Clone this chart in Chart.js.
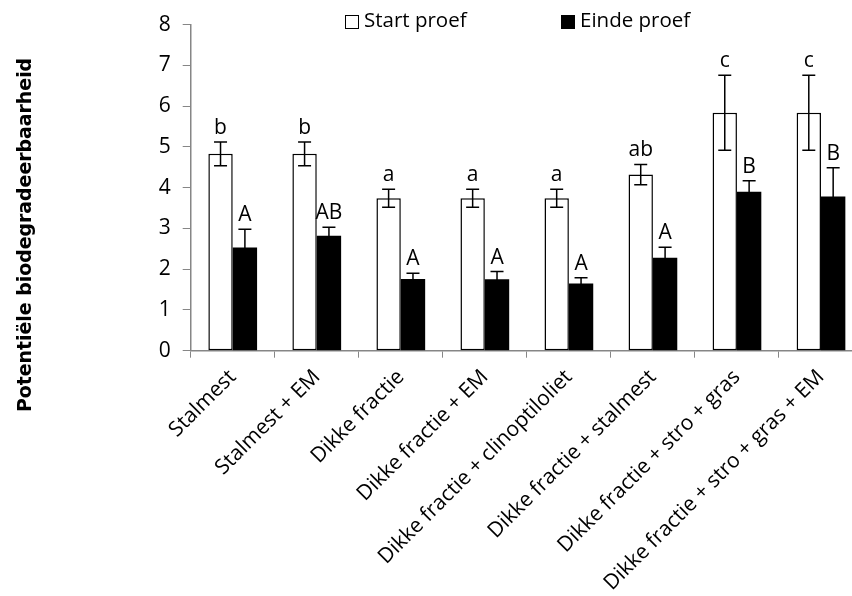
<!DOCTYPE html>
<html>
<head>
<meta charset="utf-8">
<script src="https://cdn.jsdelivr.net/npm/chart.js@4"></script>
<style>
  html, body { margin: 0; padding: 0; background: #fff; overflow: hidden; }
  #wrap { width: 852px; height: 596px; overflow: hidden; }
</style>
</head>
<body>
<div id="wrap"><canvas id="chart" width="864" height="596"></canvas></div>
<script>
// Data
const categories = [
  "Stalmest",
  "Stalmest + EM",
  "Dikke fractie",
  "Dikke fractie + EM",
  "Dikke fractie + clinoptiloliet",
  "Dikke fractie + stalmest",
  "Dikke fractie + stro + gras",
  "Dikke fractie + stro + gras + EM"
];
const startValues = [4.83, 4.83, 3.74, 3.74, 3.74, 4.32, 5.84, 5.84];
const startErrors = [0.29, 0.29, 0.22, 0.22, 0.22, 0.25, 0.92, 0.92];
const startLetters = ["b", "b", "a", "a", "a", "ab", "c", "c"];
const endValues = [2.53, 2.82, 1.76, 1.75, 1.65, 2.28, 3.90, 3.78];
const endErrors = [0.45, 0.21, 0.14, 0.19, 0.14, 0.26, 0.27, 0.71];
const endLetters = ["A", "AB", "A", "A", "A", "A", "B", "B"];
const yTicks = [0, 1, 2, 3, 4, 5, 6, 7, 8];

const FONT = "'Open Sans', sans-serif";
const AXIS_GREY = "#868686";

// Error bars and significance letters on top of each bar
const errorBarPlugin = {
  id: "errorBars",
  afterDatasetsDraw(chart) {
    const ctx = chart.ctx;
    const y = chart.scales.y;
    ctx.save();
    chart.data.datasets.forEach((ds, di) => {
      const meta = chart.getDatasetMeta(di);
      meta.data.forEach((bar, i) => {
        const v = ds.data[i];
        const e = ds.errors[i];
        const top = y.getPixelForValue(v + e);
        const bot = y.getPixelForValue(v - e);
        ctx.strokeStyle = "#000";
        ctx.lineWidth = 1.5;
        ctx.beginPath();
        ctx.moveTo(bar.x, top);
        ctx.lineTo(bar.x, bot);
        ctx.moveTo(bar.x - 6.5, top);
        ctx.lineTo(bar.x + 6.5, top);
        ctx.moveTo(bar.x - 6.5, bot);
        ctx.lineTo(bar.x + 6.5, bot);
        ctx.stroke();
        ctx.fillStyle = "#000";
        ctx.font = "21px " + FONT;
        ctx.textAlign = "center";
        ctx.textBaseline = "alphabetic";
        ctx.fillText(ds.letters[i], bar.x, top - 8);
      });
    });
    ctx.restore();
  }
};

// Legend inside the plot area and the rotated y-axis title
const decorPlugin = {
  id: "decor",
  afterDraw(chart) {
    const ctx = chart.ctx;
    ctx.save();
    ctx.font = "20.5px " + FONT;
    ctx.textBaseline = "middle";
    ctx.textAlign = "left";
    const items = [
      { x: 345, fill: "#fff" },
      { x: 561, fill: "#000" }
    ];
    chart.data.datasets.forEach((ds, i) => {
      const it = items[i];
      ctx.fillStyle = it.fill;
      ctx.fillRect(it.x, 15.5, 13, 13);
      ctx.strokeStyle = "#000";
      ctx.lineWidth = 1;
      ctx.strokeRect(it.x + 0.5, 15.5, 13, 13);
      ctx.fillStyle = "#000";
      ctx.fillText(ds.label, it.x + 19, 21);
    });

    ctx.translate(26, 235);
    ctx.rotate(-Math.PI / 2);
    ctx.font = "bold 18.9px 'DejaVu Sans', sans-serif";
    ctx.textAlign = "center";
    ctx.fillText("Potentiële biodegradeerbaarheid", 0, 0);
    ctx.restore();
  }
};

new Chart(document.getElementById("chart"), {
  type: "bar",
  data: {
    labels: categories,
    datasets: [
      {
        label: "Start proef",
        data: startValues,
        errors: startErrors,
        letters: startLetters,
        backgroundColor: "#fff",
        borderColor: "#000",
        borderWidth: 1.5,
        borderSkipped: false
      },
      {
        label: "Einde proef",
        data: endValues,
        errors: endErrors,
        letters: endLetters,
        backgroundColor: "#000",
        borderColor: "#000",
        borderWidth: 0
      }
    ]
  },
  options: {
    responsive: false,
    animation: false,
    categoryPercentage: 0.58,
    barPercentage: 1.0,
    layout: { padding: { left: 16, top: 17, right: 1, bottom: 0 } },
    plugins: {
      legend: { display: false },
      tooltip: { enabled: false }
    },
    scales: {
      x: {
        grid: {
          drawOnChartArea: false,
          color: AXIS_GREY,
          tickLength: 7,
          offset: true
        },
        border: { color: AXIS_GREY, width: 1.5 },
        ticks: {
          color: "#000",
          font: { family: FONT, size: 21 },
          minRotation: 45,
          maxRotation: 45,
          padding: 7,
          autoSkip: false
        },
        afterFit(scale) { scale.height = 245.3; }
      },
      y: {
        min: 0,
        max: 8,
        afterBuildTicks(scale) {
          scale.ticks = yTicks.map(v => ({ value: v }));
        },
        grid: {
          drawOnChartArea: false,
          color: AXIS_GREY,
          tickLength: 8
        },
        border: { color: AXIS_GREY, width: 1.5 },
        ticks: {
          color: "#000",
          font: { family: FONT, size: 21 },
          padding: 12
        },
        afterFit(scale) { scale.width = 174.7; }
      }
    }
  },
  plugins: [errorBarPlugin, decorPlugin]
});
</script>
</body>
</html>
